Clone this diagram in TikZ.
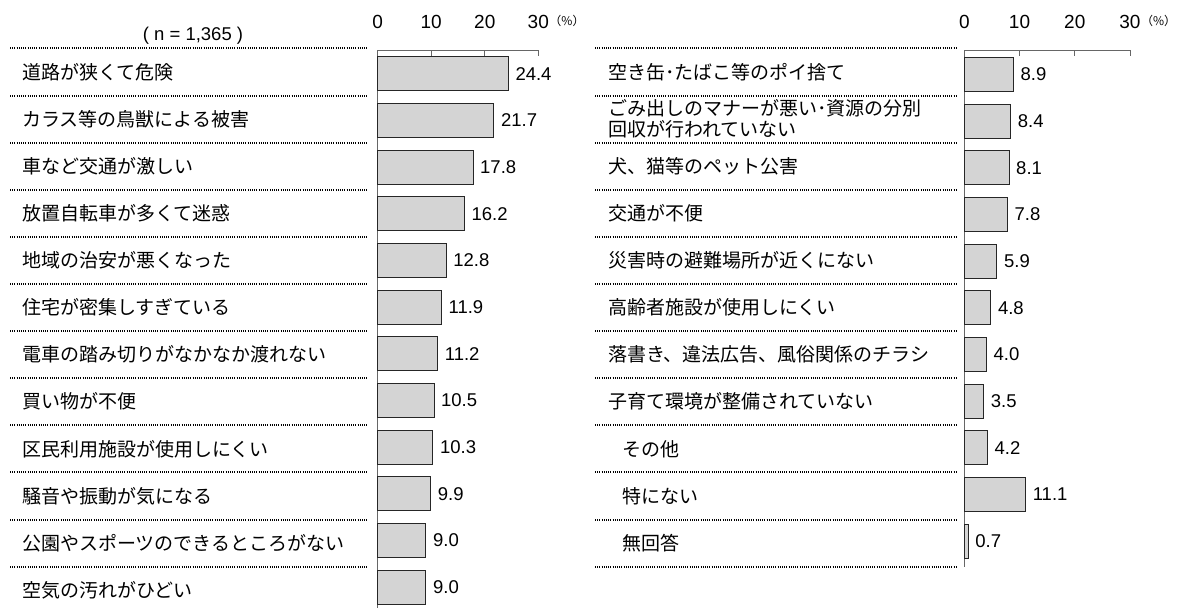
\documentclass[tikz,border=0pt]{standalone}
\usepackage{fontspec}
\setmainfont{Liberation Sans}
\newfontfamily\jpfont{Noto Sans CJK JP}
\usepackage{tikz}

\begin{document}
\begin{tikzpicture}[x=1pt,y=-1pt,
  barbox/.style={draw=black!85,fill=black!17,line width=0.8pt},
  seprule/.style={line width=2pt,dash pattern=on 0.9pt off 1.3pt},
  axisline/.style={draw=black!60,line width=1pt},
  rowlab/.style={anchor=west,inner sep=0pt,align=left,font=\jpfont\fontsize{19}{21}\selectfont},
  pctlab/.style={anchor=west,inner sep=0pt,font=\fontsize{18.5}{20}\selectfont},
  scalelab/.style={inner sep=0pt,font=\fontsize{19}{21}\selectfont},
  unitlab/.style={inner sep=0pt,font=\jpfont\fontsize{12}{13}\selectfont}]
\useasboundingbox (0,0) rectangle (1184,610);
% left chart
\node[inner sep=0pt,font=\fontsize{18.5}{20}\selectfont] (nn) at (193,35.5) {( n = 1,365 )};
\draw[axisline] (377.7,50.5) -- (377.7,608);
\draw[axisline] (377.7,50.5) -- (538.3,50.5);
\foreach \tk/\tn in {0/0,1/10,2/20,3/30}
{
	\draw[axisline] (377.7+53.53*\tk,50.5) -- ++(0,6);
	\node[scalelab] (sa\tk) at (377.7+53.53*\tk,21.7) {\tn};
}
\node[unitlab] (ua) at (567,20.5) {（\%）};
\foreach \lbl/\pct [count=\k from 0] in {道路が狭くて危険/24.4,カラス等の鳥獣による被害/21.7,車など交通が激しい/17.8,放置自転車が多くて迷惑/16.2,地域の治安が悪くなった/12.8,住宅が密集しすぎている/11.9,電車の踏み切りがなかなか渡れない/11.2,買い物が不便/10.5,区民利用施設が使用しにくい/10.3,騒音や振動が気になる/9.9,公園やスポーツのできるところがない/9.0,空気の汚れがひどい/9.0}
{
	\draw[seprule] (10,48.5+47.1*\k) -- (368,48.5+47.1*\k);
	\node[rowlab] (la\k) at (22,72+47.1*\k) {\lbl};
	\draw[barbox] (377.7,56.7+46.67*\k) rectangle (377.7+5.353*\pct,90.7+46.67*\k);
	\node[pctlab] (va\k) at (377.7+5.353*\pct+7,73.7+46.67*\k) {\pct};
}
% right chart
\draw[axisline] (964.3,50.5) -- (964.3,566.7);
\draw[axisline] (964.3,50.5) -- (1130,50.5);
\foreach \tk/\tn in {0/0,1/10,2/20,3/30}
{
	\draw[axisline] (964.3+55.23*\tk,50.5) -- ++(0,6);
	\node[scalelab] (sb\tk) at (964.3+55.23*\tk,21.7) {\tn};
}
\node[unitlab] (ub) at (1158.7,20.5) {（\%）};
\foreach \lbl/\pct/\lx [count=\k from 0] in {空き缶･たばこ等のポイ捨て/8.9/608,{ごみ出しのマナーが悪い･資源の分別\\回収が行われていない}/8.4/608,犬、猫等のペット公害/8.1/608,交通が不便/7.8/608,災害時の避難場所が近くにない/5.9/608,高齢者施設が使用しにくい/4.8/608,落書き、違法広告、風俗関係のチラシ/4.0/608,子育て環境が整備されていない/3.5/608,その他/4.2/622,特にない/11.1/622,無回答/0.7/622}
{
	\draw[seprule] (595,48.5+47.1*\k) -- (956,48.5+47.1*\k);
	\node[rowlab] (lb\k) at (\lx,72+47.1*\k) {\lbl};
	\draw[barbox] (964.3,57.3+46.67*\k) rectangle (964.3+5.523*\pct,91.3+46.67*\k);
	\node[pctlab] (vb\k) at (964.3+5.523*\pct+7,74.3+46.67*\k) {\pct};
}
\draw[seprule] (595,566.6) -- (956,566.6);
\end{tikzpicture}
\end{document}
